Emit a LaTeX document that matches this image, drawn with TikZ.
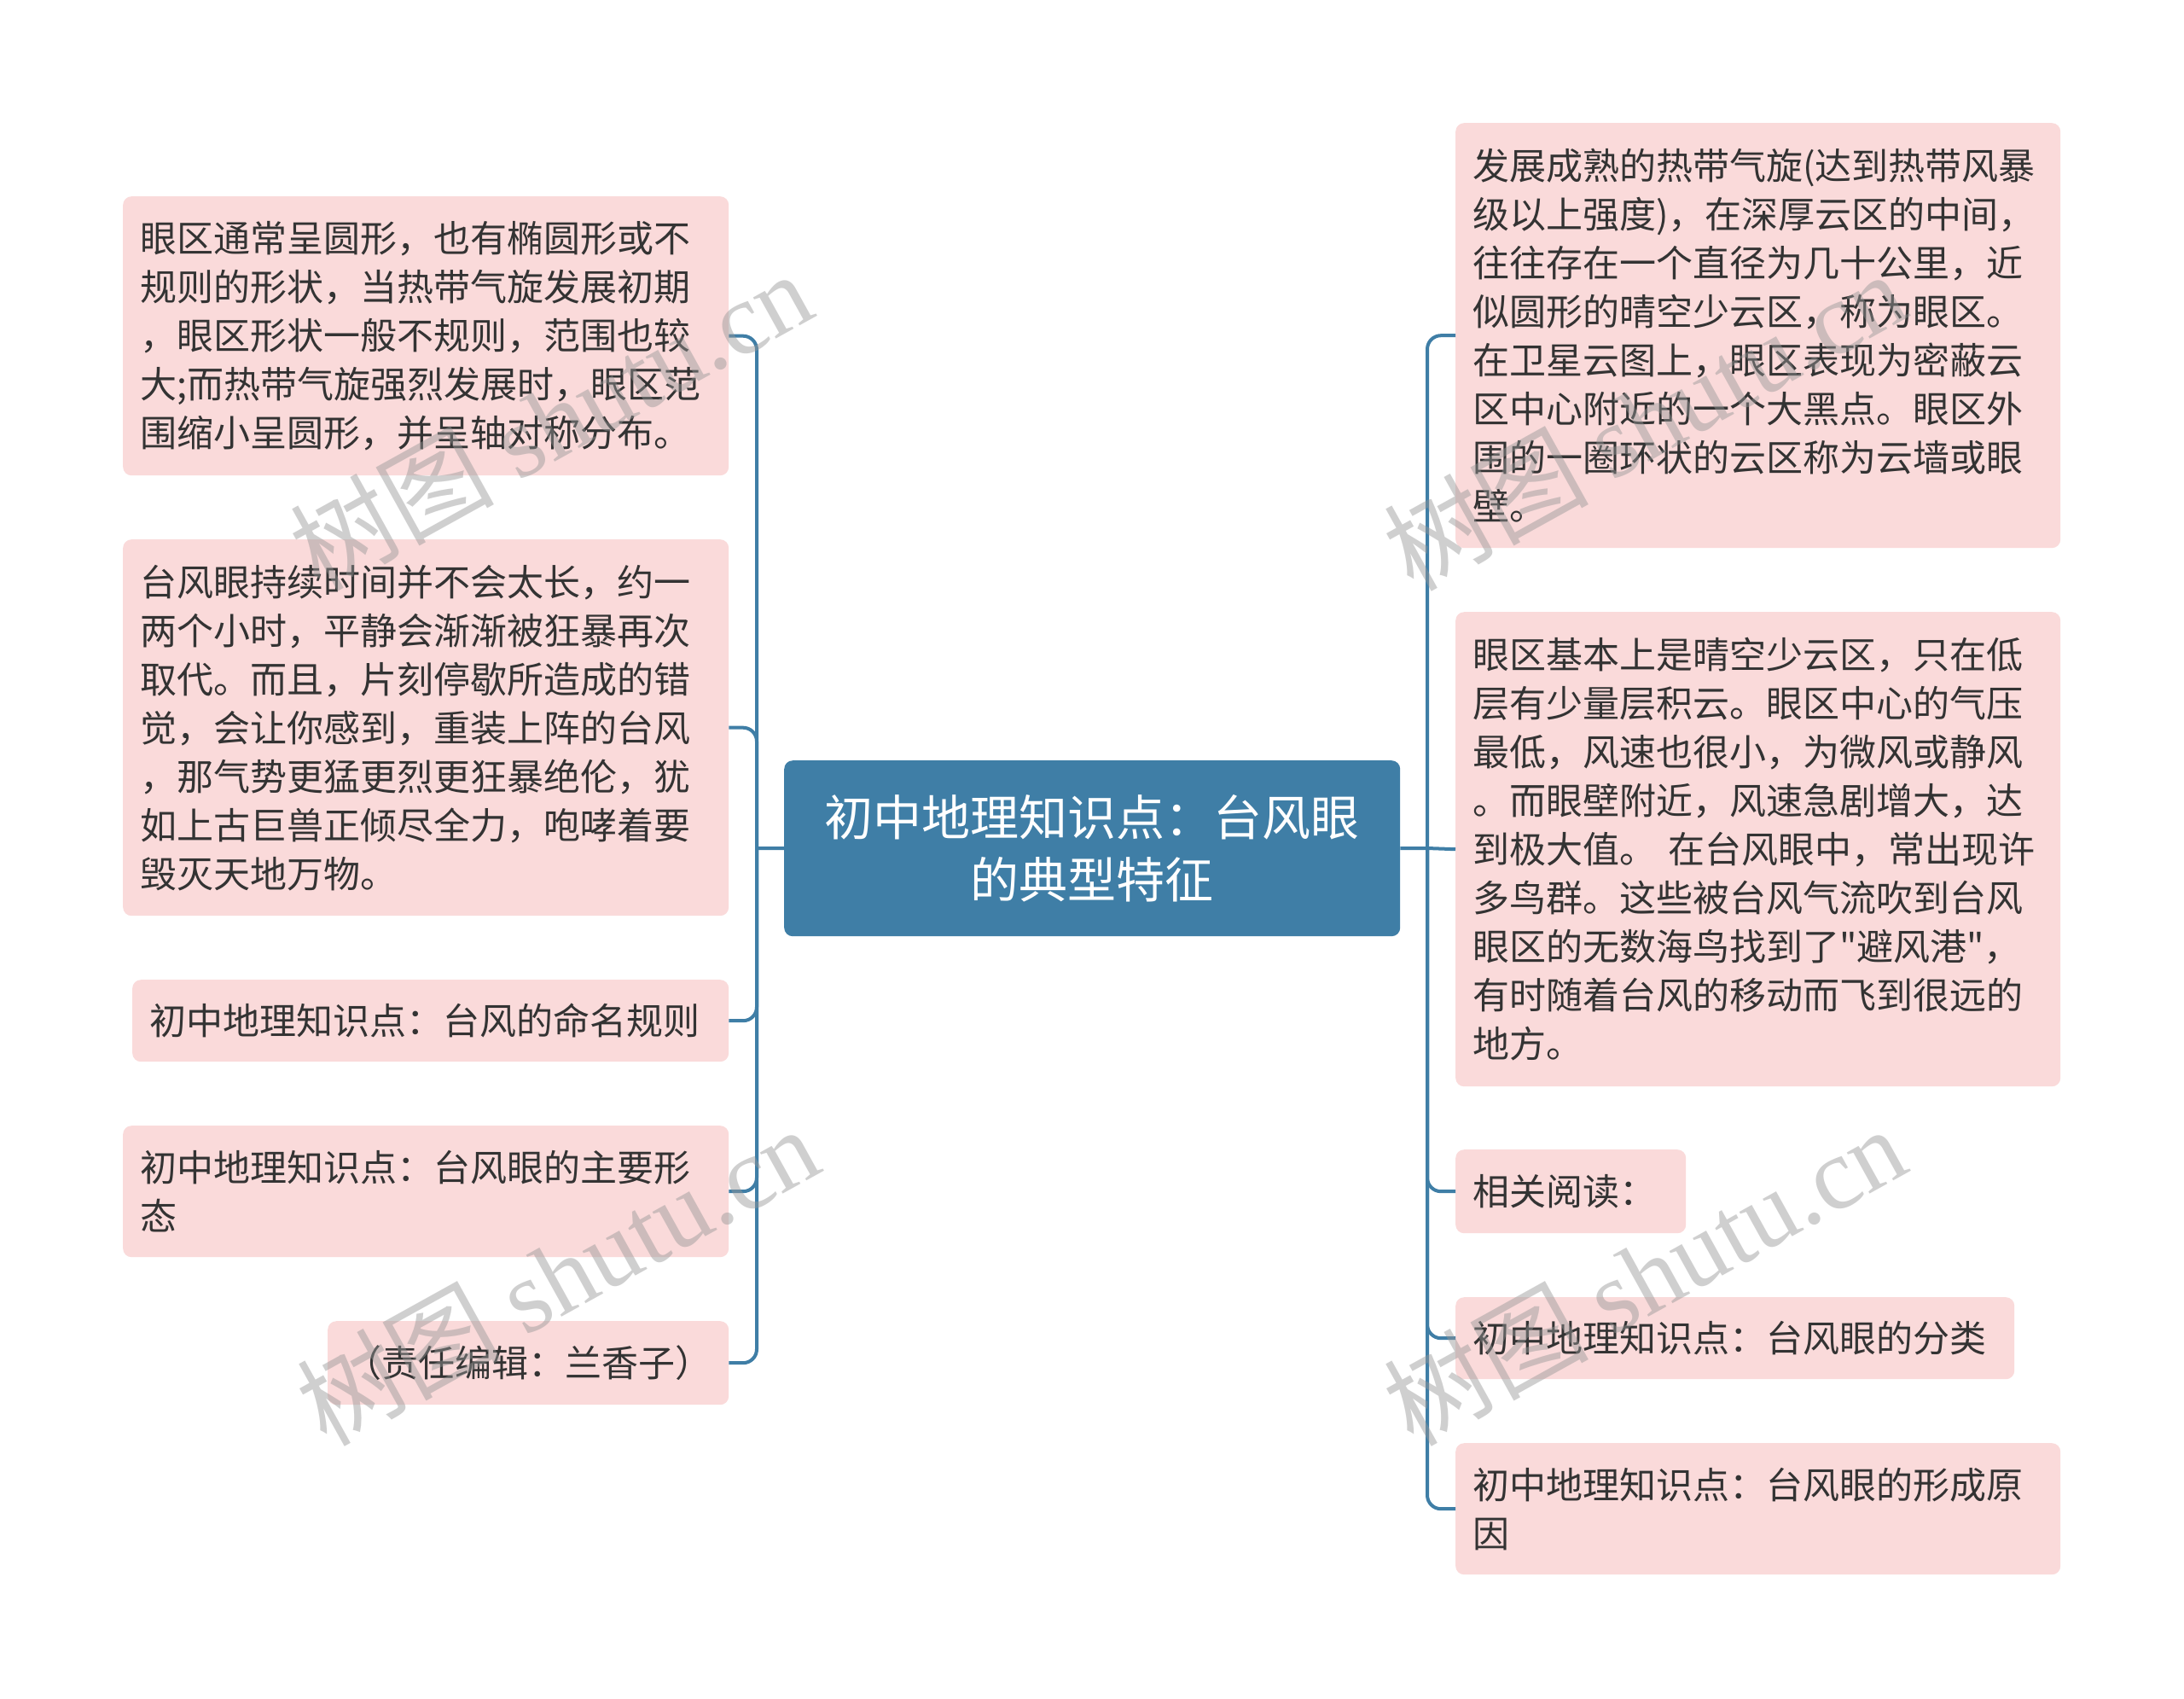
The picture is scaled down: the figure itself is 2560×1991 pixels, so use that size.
\documentclass[tikz,border=0pt]{standalone}
\usepackage{fontspec}
\setmainfont{Noto Sans CJK SC}[Ligatures=TeXOff]
\newfontfamily\wmserif{Liberation Serif}
\definecolor{mainblue}{RGB}{63,126,166}
\definecolor{leafpink}{RGB}{250,218,218}
\definecolor{txtgray}{RGB}{51,51,51}
\definecolor{wmgray}{RGB}{150,150,150}
\begin{document}
\begin{tikzpicture}[x=1pt,y=-1pt,
  leaf/.style={fill=leafpink, rounded corners=10pt, anchor=north west, inner xsep=20pt, inner ysep=0pt, align=left, text=txtgray, font=\fontsize{43}{57}\selectfont},
  root/.style={fill=mainblue, rounded corners=10pt, anchor=north west, inner sep=0pt, align=center, text=white, font=\fontsize{57}{73}\selectfont},
  conn/.style={draw=mainblue, line width=4pt, rounded corners=16pt},
  wmark/.style={text=wmgray, opacity=0.45, rotate=29, inner sep=0pt, font=\fontsize{120}{120}\selectfont}
]
\fill[white] (0,0) rectangle (2560,1991);
\useasboundingbox (0,0) rectangle (2560,1991);

% root
\node[root, minimum width=722pt, minimum height=206pt] (c) at (919,891) {初中地理知识点：台风眼\\的典型特征};

% left leaves
\node[leaf, minimum width=710pt, minimum height=327pt, text width=670pt] (l1) at (144,230) {眼区通常呈圆形，也有椭圆形或不\\规则的形状，当热带气旋发展初期\\，眼区形状一般不规则，范围也较\\大;而热带气旋强烈发展时，眼区范\\围缩小呈圆形，并呈轴对称分布。};
\node[leaf, minimum width=710pt, minimum height=441pt, text width=670pt] (l2) at (144,632) {台风眼持续时间并不会太长，约一\\两个小时，平静会渐渐被狂暴再次\\取代。而且，片刻停歇所造成的错\\觉，会让你感到，重装上阵的台风\\，那气势更猛更烈更狂暴绝伦，犹\\如上古巨兽正倾尽全力，咆哮着要\\毁灭天地万物。};
\node[leaf, minimum width=699pt, minimum height=96pt, text width=659pt] (l3) at (155,1148) {初中地理知识点：台风的命名规则};
\node[leaf, minimum width=710pt, minimum height=154pt, text width=670pt] (l4) at (144,1319) {初中地理知识点：台风眼的主要形\\态};
\node[leaf, minimum width=470pt, minimum height=98pt, text width=430pt] (l5) at (384,1548) {（责任编辑：兰香子）};

% right leaves
\node[leaf, minimum width=709pt, minimum height=498pt, text width=669pt] (r1) at (1706,144) {发展成熟的热带气旋(达到热带风暴\\级以上强度)，在深厚云区的中间，\\往往存在一个直径为几十公里，近\\似圆形的晴空少云区，称为眼区。\\在卫星云图上，眼区表现为密蔽云\\区中心附近的一个大黑点。眼区外\\围的一圈环状的云区称为云墙或眼\\壁。};
\node[leaf, minimum width=709pt, minimum height=556pt, text width=669pt] (r2) at (1706,717) {眼区基本上是晴空少云区，只在低\\层有少量层积云。眼区中心的气压\\最低，风速也很小，为微风或静风\\。而眼壁附近，风速急剧增大，达\\到极大值。 在台风眼中，常出现许\\多鸟群。这些被台风气流吹到台风\\眼区的无数海鸟找到了"避风港"，\\有时随着台风的移动而飞到很远的\\地方。};
\node[leaf, minimum width=270pt, minimum height=98pt, text width=230pt] (r3) at (1706,1347) {相关阅读：};
\node[leaf, minimum width=655pt, minimum height=96pt, text width=615pt] (r4) at (1706,1520) {初中地理知识点：台风眼的分类};
\node[leaf, minimum width=709pt, minimum height=154pt, text width=669pt] (r5) at (1706,1691) {初中地理知识点：台风眼的形成原\\因};

% connectors
\coordinate (lj) at (887,994);
\coordinate (rj) at (1673,994);
\draw[conn] (c.west) -- (lj);
\draw[conn] (c.east) -- (rj);
\foreach \n in {l1,l2,l3,l4,l5} {\draw[conn] (lj) |- (\n.east);}
\foreach \n in {r1,r3,r4,r5} {\draw[conn] (rj) |- (\n.west);}
\draw[conn] (rj) -- (r2.west);

% watermarks
\node[wmark] (w1) at (645,492) {树图 {\wmserif shutu.cn}};
\node[wmark] (w2) at (653,1494) {树图 {\wmserif shutu.cn}};
\node[wmark] (w3) at (1927,492) {树图 {\wmserif shutu.cn}};
\node[wmark] (w4) at (1927,1494) {树图 {\wmserif shutu.cn}};
\end{tikzpicture}
\end{document}
